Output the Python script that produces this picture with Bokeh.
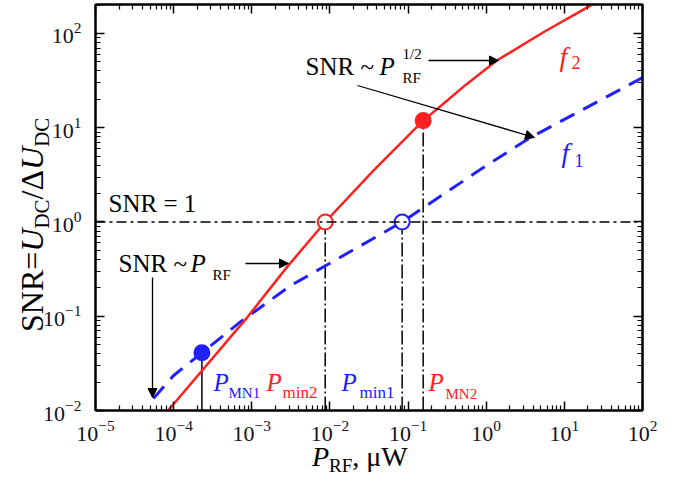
import numpy as np
from bokeh.plotting import figure
from bokeh.layouts import column, row
from bokeh.models import (LogAxis, FixedTicker, LogTickFormatter, Label, Arrow,
                          NormalHead, Span, ColumnDataSource, Div)
from bokeh.embed import file_html
from bokeh.resources import INLINE

# ---------------- data ----------------
f1_p = [5.5e-5, 1.0e-4, 7.0e-4, 3.1e-3, 0.084, 0.84, 3.7, 100.0]
f1_snr = [0.0134, 0.0235, 0.086, 0.21, 1.0, 3.6, 7.9, 34.0]

f2_p = [8.5e-5, 8.8e-4, 2.8e-3, 8.7e-3, 0.036, 0.156, 0.24, 0.56, 1.38, 5.6, 23.0]
f2_snr = [0.010, 0.098, 0.33, 1.0, 3.5, 11.9, 16.0, 29.0, 52.0, 105.0, 204.0]

# characteristic points: P_MN1, P_min2, P_min1, P_MN2
pt_names = ["P_MN1", "P_min2", "P_min1", "P_MN2"]
pt_p = [2.3e-4, 8.7e-3, 0.084, 0.156]
pt_snr = [0.041, 1.0, 1.0, 11.9]
pt_filled = [True, False, False, True]
pt_curve = ["f1", "f2", "f1", "f2"]

snr_level = 1.0
x_decades = list(range(-5, 3))
y_decades = list(range(-2, 3))
y_top = 203.0

RED = "#ff2020"
BLUE = "#2020ff"
SERIF = "Liberation Serif"

YLAB_W = 40
P_H = 454
# ---------------- figure ----------------
p = figure(width=659 - YLAB_W, height=P_H, x_axis_type="log", y_axis_type="log",
           x_range=(10.0 ** x_decades[0], 10.0 ** x_decades[-1]),
           y_range=(10.0 ** y_decades[0], y_top),
           output_backend="svg", toolbar_location=None,
           min_border_left=95 - YLAB_W, min_border_right=17, min_border_top=4,
           min_border_bottom=P_H - 410, margin=0)
p.grid.visible = False
p.outline_line_color = "black"
p.outline_line_width = 2
p.background_fill_color = "white"
p.border_fill_color = None


def minors(decades):
    out = []
    for k in decades[:-1]:
        for m in range(2, 10):
            out.append(m * 10.0 ** k)
    return out


x_major = [10.0 ** k for k in x_decades]
y_major = [10.0 ** k for k in y_decades]
x_ticker = FixedTicker(ticks=x_major, minor_ticks=minors(x_decades))
y_ticker = FixedTicker(ticks=y_major, minor_ticks=minors(y_decades + [3]))


def style_axis(ax, show_labels):
    ax.axis_line_color = "black"
    ax.axis_line_width = 2
    ax.major_tick_in = 9
    ax.major_tick_out = 0
    ax.minor_tick_in = 5
    ax.minor_tick_out = 0
    ax.major_tick_line_width = 1.5
    ax.minor_tick_line_width = 1.2
    ax.major_tick_line_color = "black"
    ax.minor_tick_line_color = "black"
    if show_labels:
        ax.major_label_text_font = SERIF
        ax.major_label_text_font_size = "22px"
        ax.major_label_text_color = "#111122"
    else:
        ax.major_label_text_font_size = "1px"
        ax.major_label_text_alpha = 0.0
        ax.major_label_standoff = 0


xa = p.xaxis[0]
xa.ticker = x_ticker
xa.formatter = LogTickFormatter()
style_axis(xa, True)
xa.major_label_standoff = 10

ya = p.yaxis[0]
ya.ticker = y_ticker
ya.formatter = LogTickFormatter()
style_axis(ya, True)
ya.major_label_standoff = 14

top_ax = LogAxis(ticker=x_ticker)
style_axis(top_ax, False)
p.add_layout(top_ax, "above")
right_ax = LogAxis(ticker=y_ticker)
style_axis(right_ax, False)
p.add_layout(right_ax, "right")

# ---------------- reference lines ----------------
p.add_layout(Span(location=snr_level, dimension="width", line_color="black",
                  line_width=1.5, line_dash="10 4 3 4"))

bottom = 10.0 ** y_decades[0]
solid_idx = [0]
dash_idx = [1, 2, 3]
p.segment(x0=[pt_p[i] for i in solid_idx], x1=[pt_p[i] for i in solid_idx],
          y0=[bottom] * len(solid_idx), y1=[pt_snr[i] for i in solid_idx],
          line_color="black", line_width=1.5)
p.segment(x0=[pt_p[i] for i in dash_idx], x1=[pt_p[i] for i in dash_idx],
          y0=[bottom] * len(dash_idx), y1=[pt_snr[i] for i in dash_idx],
          line_color="black", line_width=1.5, line_dash="14 3 2 3")

# ---------------- curves ----------------
p.line(f1_p, f1_snr, line_color=BLUE, line_width=3, line_dash="16 10")
p.line(f2_p, f2_snr, line_color=RED, line_width=2.5)

# ---------------- markers ----------------
cols = [BLUE if c == "f1" else RED for c in pt_curve]
fills = [c if f else "white" for c, f in zip(cols, pt_filled)]
src = ColumnDataSource(dict(x=pt_p, y=pt_snr, lc=cols, fc=fills))
p.scatter("x", "y", source=src, size=15, line_color="lc", fill_color="fc",
          line_width=2)

# ---------------- in-frame texts (image px -> frame screen offsets) ----------------
FL, FB = 95, 410


def lab(text, px, py, size, color="black", style="normal"):
    p.add_layout(Label(x=px - FL, y=FB - py, x_units="screen", y_units="screen",
                       text=text, text_font=SERIF, text_font_size=f"{size}px",
                       text_color=color, text_font_style=style,
                       text_align="left", text_baseline="alphabetic"))


def arrow(x0, y0, x1, y1):
    p.add_layout(Arrow(end=NormalHead(size=9, fill_color="black",
                                      line_color="black", line_width=1),
                       x_start=x0 - FL, y_start=FB - y0,
                       x_end=x1 - FL, y_end=FB - y1,
                       start_units="screen", end_units="screen",
                       line_color="black", line_width=1.3))


# SNR = 1
lab("SNR = 1", 108, 203, 25)

# SNR ~ P_RF
lab("SNR ~", 118, 263, 25)
lab("P", 190, 263, 25, style="italic")
lab("RF", 212, 274, 15)
arrow(245, 263, 288, 263)
arrow(152, 277, 152, 397)

# SNR ~ P_RF^{1/2}
lab("SNR ~", 305, 66, 25)
lab("P", 379, 66, 25, style="italic")
lab("1/2", 402, 53, 15)
lab("RF", 402, 77, 15)
arrow(428, 60, 498, 60)
arrow(357, 85, 534, 137)

# curve names
lab("f", 559, 56, 28, RED, "italic")
lab("2", 571, 62, 18, RED)
lab("f", 561, 152, 28, BLUE, "italic")
lab("1", 574, 160, 18, BLUE)

# point names
lab("P", 213, 382, 25, BLUE, "italic")
lab("MN1", 228, 392, 15, BLUE)
lab("P", 266, 382, 25, RED, "italic")
lab("min2", 282, 392, 17, RED)
lab("P", 341, 382, 25, BLUE, "italic")
lab("min1", 359, 392, 17, BLUE)
lab("P", 428, 382, 25, RED, "italic")
lab("MN2", 445, 393, 15, RED)

# ---------------- axis titles (HTML text with real sub-scripts) ----------------
SUB = "font-size:{}px; position:relative; top:{}px;"
y_html = (
    "<div style=\"white-space:nowrap; width:max-content; font-family:'Liberation Serif';"
    " font-size:32px; line-height:32px; color:black; transform-origin:0 0;"
    " transform:translate(16px, 332px) rotate(-90deg);\">"
    "SNR=<i>U</i><span style='" + SUB.format(21, 6) + "'>DC</span>"
    "/&Delta;<i>U</i><span style='" + SUB.format(21, 6) + "'>DC</span></div>"
)
x_html = (
    "<div style=\"white-space:nowrap; width:max-content; font-family:'Liberation Serif';"
    " font-size:28px; line-height:18px; color:black;"
    " transform:translate(312px, -6px);\">"
    "<i>P</i><span style='" + SUB.format(19, 6) + "'>RF</span>, &mu;W</div>"
)
ydiv = Div(text=y_html, width=YLAB_W, height=P_H, margin=0,
           styles={"overflow": "visible", "z-index": "1"})
xdiv = Div(text=x_html, width=659, height=472 - P_H, margin=0)

layout = column(row(ydiv, p, spacing=0), xdiv, spacing=0)

open("out.html", "w").write(file_html(layout, INLINE))
